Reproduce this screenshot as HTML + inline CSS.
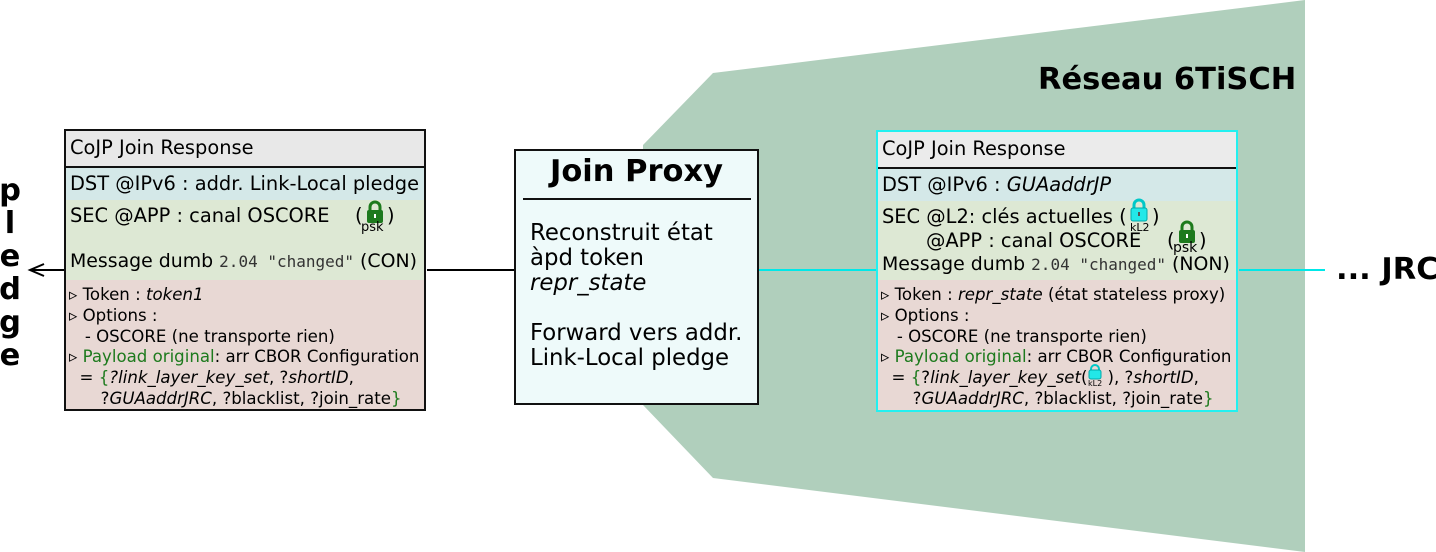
<!DOCTYPE html>
<html><head><meta charset="utf-8"><style>
body{margin:0;width:1436px;height:552px;background:#fff;position:relative;overflow:hidden;font-family:"DejaVu Sans","Liberation Sans",sans-serif;}
.a{position:absolute;white-space:nowrap;}
.box{position:absolute;width:362px;height:282px;box-sizing:border-box;}
.r{position:absolute;left:0;right:0;}
.t{position:absolute;white-space:nowrap;font-size:19.4px;color:#000;}
.s{position:absolute;white-space:nowrap;font-size:16.6px;color:#000;}
.g{color:#1d7a1d}
.m{font-family:"DejaVu Sans Mono","Liberation Mono",monospace;font-size:16px;color:#333}
.big{font-weight:bold;font-size:30.5px;}
.lock{position:absolute;}
.sp{display:inline-block;width:20px;}
</style></head><body>
<svg class="a" style="left:0;top:0" width="1436" height="552">
<polygon points="713,73 1305,0 1305,552 713,478 643,405 643,145" fill="#b0cfbc"/>
<line x1="427" y1="270" x2="514" y2="270" stroke="#000" stroke-width="2"/>
<line x1="65" y1="270" x2="32" y2="270" stroke="#000" stroke-width="2"/>
<path d="M44,264 L30,270 L44,276" fill="none" stroke="#000" stroke-width="2"/>
<line x1="759" y1="270" x2="877" y2="270" stroke="#00e8e8" stroke-width="2"/>
<line x1="1239" y1="270" x2="1325" y2="270" stroke="#00e8e8" stroke-width="2"/>
</svg>
<div class="a big" style="left:1038px;top:62px;">Réseau 6TiSCH</div>
<div class="a big" style="left:1336px;top:252px;">... JRC</div>
<div class="a big" style="left:-2px;top:174px;line-height:33px;width:24px;text-align:center;">p<br>l<br>e<br>d<br>g<br>e</div>

<!-- left box -->
<div class="box" style="left:64px;top:129px;border:2px solid #111;">
 <div class="r" style="top:0;height:35px;background:#e8e8e8;border-bottom:2px solid #111;"></div>
 <div class="r" style="top:37px;height:32px;background:#d4e8e8;"></div>
 <div class="r" style="top:69px;height:80px;background:#dde8d4;"></div>
 <div class="r" style="top:149px;bottom:0;background:#e8d8d4;"></div>
 <div class="t" style="left:4px;top:5px;">CoJP Join Response</div>
 <div class="t" style="left:4px;top:41px;">DST @IPv6 : addr. Link-Local pledge</div>
 <div class="t" style="left:4px;top:73px;">SEC @APP : canal OSCORE</div>
 <div class="t" style="left:289px;top:73px;">(</div>
 <div class="t" style="left:321px;top:73px;">)</div>
 <svg class="lock" style="left:299px;top:69px" width="20" height="24"><path d="M5,11 V7 a5,5 0 0 1 10,0 V11" fill="none" stroke="#1d7a1d" stroke-width="3"/><rect x="2" y="10" width="16" height="13" rx="2" fill="#1d7a1d"/><rect x="9" y="14" width="2" height="4" fill="#fff"/></svg>
 <div class="a" style="left:295px;top:89px;font-size:13px;">psk</div>
 <div class="t" style="left:4px;top:119px;font-size:18.9px;">Message dumb <span class="m">2.04 "changed"</span> (CON)</div>
 <div class="s" style="left:3px;top:154px;line-height:20.8px;">▹ Token : <i>token1</i><br>▹ Options :<br>&nbsp;&nbsp;&nbsp;- OSCORE (ne transporte rien)<br>▹ <span class="g">Payload original</span>: arr CBOR Configuration<br>&nbsp;&nbsp;= <span class="g">{</span><i>?link_layer_key_set</i>, ?<i>shortID</i>,<br>&nbsp;&nbsp;&nbsp;&nbsp;&nbsp;&nbsp;?<i>GUAaddrJRC</i>, ?blacklist, ?join_rate<span class="g">}</span></div>
</div>

<!-- join proxy -->
<div class="a" style="left:514px;top:149px;width:245px;height:256px;box-sizing:border-box;border:2px solid #111;background:#eefafa;">
 <div class="a" style="left:0;width:241px;top:3px;text-align:center;font-weight:bold;font-size:30.5px;">Join Proxy</div>
 <div class="a" style="left:7px;top:47px;width:228px;height:2px;background:#111;"></div>
 <div class="a" style="left:14px;top:70px;line-height:25px;font-size:22.8px;">Reconstruit état<br>àpd token<br><i>repr_state</i><br><br>Forward vers addr.<br>Link-Local pledge</div>
</div>

<!-- right box -->
<div class="box" style="left:876px;top:130px;border:2px solid #22f0f0;">
 <div class="r" style="top:0;height:35px;background:#ebebeb;border-bottom:2px solid #111;"></div>
 <div class="r" style="top:37px;height:32px;background:#d4e8e8;"></div>
 <div class="r" style="top:69px;height:79px;background:#dde8d4;"></div>
 <div class="r" style="top:148px;bottom:0;background:#e8d8d4;"></div>
 <div class="t" style="left:4px;top:5px;">CoJP Join Response</div>
 <div class="t" style="left:4px;top:41px;">DST @IPv6 : <i>GUAaddrJP</i></div>
 <div class="t" style="left:4px;top:73px;">SEC @L2: clés actuelles (</div>
 <div class="t" style="left:274px;top:73px;">)</div>
 <svg class="lock" style="left:252px;top:66px" width="18" height="24"><path d="M4,11 V7 a5,5 0 0 1 10,0 V11" fill="none" stroke="#00c8c8" stroke-width="3"/><rect x="1" y="10" width="16" height="13" rx="2" fill="#22e8e8" stroke="#0aa" stroke-width="1"/><rect x="8" y="14" width="2" height="4" fill="#555"/></svg>
 <div class="a" style="left:252px;top:89px;font-size:11px;">kL2</div>
 <div class="t" style="left:48px;top:97px;">@APP : canal OSCORE</div>
 <div class="t" style="left:289px;top:97px;">(</div>
 <div class="t" style="left:321px;top:97px;">)</div>
 <svg class="lock" style="left:299px;top:88px" width="20" height="24"><path d="M5,11 V7 a5,5 0 0 1 10,0 V11" fill="none" stroke="#1d7a1d" stroke-width="3"/><rect x="2" y="10" width="16" height="13" rx="2" fill="#1d7a1d"/><rect x="9" y="14" width="2" height="4" fill="#fff"/></svg>
 <div class="a" style="left:295px;top:108px;font-size:14px;">psk</div>
 <div class="t" style="left:4px;top:121px;font-size:18.9px;">Message dumb <span class="m">2.04 "changed"</span> (NON)</div>
 <div class="s" style="left:3px;top:153px;line-height:20.8px;">▹ Token : <i>repr_state</i> (état stateless proxy)<br>▹ Options :<br>&nbsp;&nbsp;&nbsp;- OSCORE (ne transporte rien)<br>▹ <span class="g">Payload original</span>: arr CBOR Configuration<br>&nbsp;&nbsp;= <span class="g">{</span>?<i>link_layer_key_set</i>(<span class="sp"></span>), ?<i>shortID</i>,<br>&nbsp;&nbsp;&nbsp;&nbsp;&nbsp;&nbsp;?<i>GUAaddrJRC</i>, ?blacklist, ?join_rate<span class="g">}</span></div>
</div>
<svg class="a" style="left:1088px;top:364px" width="14" height="16"><path d="M3,7 V5 a4,4 0 0 1 8,0 V7" fill="none" stroke="#00c8c8" stroke-width="2"/><rect x="1" y="6" width="12" height="9" rx="2" fill="#22e8e8" stroke="#0aa" stroke-width="1"/></svg>
<div class="a" style="left:1088px;top:379px;font-size:8px;">kL2</div>
</body></html>
